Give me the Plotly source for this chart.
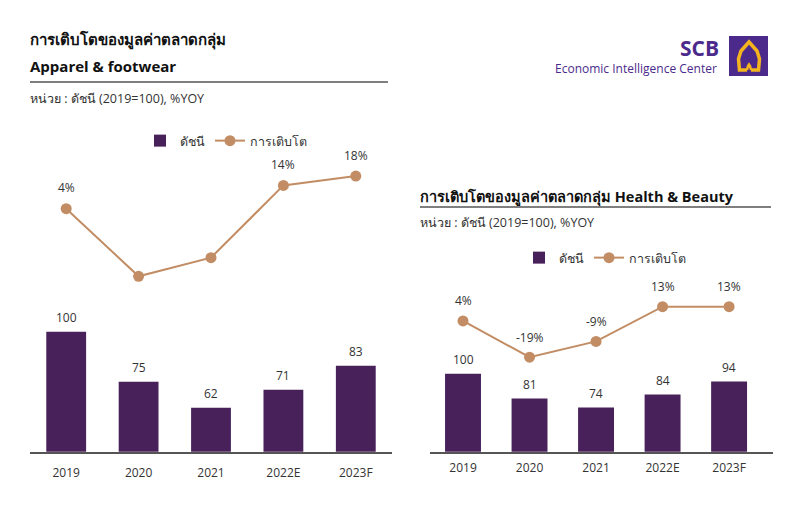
import plotly.graph_objects as go

W, H = 800, 508

# ---------------- data ----------------
categories = ["2019", "2020", "2021", "2022E", "2023F"]

apparel_index = [100, 75, 62, 71, 83]
apparel_growth = [4, -25, -17, 14, 18]
apparel_growth_labels = ["4%", "", "", "14%", "18%"]

beauty_index = [100, 81, 74, 84, 94]
beauty_growth = [4, -19, -9, 13, 13]
beauty_growth_labels = ["4%", "-19%", "-9%", "13%", "13%"]

legend_bar_name = "ดัชนี"
legend_line_name = "การเติบโต"

# ---------------- styles ----------------
BAR = "#48205A"
LINE = "#C28D64"
TXT = "#333333"
PURPLE = "#4B2A8C"
GOLD = "#F4B41E"
FONT = "Open Sans, Noto Sans, DejaVu Sans, sans-serif"


def px(x):
    return x / W


def py(y):
    return 1 - y / H


fig = go.Figure()

# left panel
fig.add_trace(go.Bar(x=categories, y=apparel_index, name=legend_bar_name,
                     marker=dict(color=BAR, line=dict(width=0)), width=0.55,
                     xaxis="x", yaxis="y", legend="legend"))
fig.add_trace(go.Scatter(x=categories, y=apparel_growth, name=legend_line_name,
                         mode="lines+markers", line=dict(color=LINE, width=2),
                         marker=dict(color=LINE, size=11), cliponaxis=False,
                         xaxis="x", yaxis="y3", legend="legend"))
# right panel
fig.add_trace(go.Bar(x=categories, y=beauty_index, name=legend_bar_name,
                     marker=dict(color=BAR, line=dict(width=0)), width=0.54,
                     xaxis="x2", yaxis="y2", legend="legend2"))
fig.add_trace(go.Scatter(x=categories, y=beauty_growth, name=legend_line_name,
                         mode="lines+markers", line=dict(color=LINE, width=2),
                         marker=dict(color=LINE, size=11), cliponaxis=False,
                         xaxis="x2", yaxis="y4", legend="legend2"))

annotations = []
# value labels via axis coordinates (category index positions)
for i, v in enumerate(apparel_index):
    annotations.append(dict(x=i, y=v, xref="x", yref="y", text=str(v), showarrow=False,
                            yshift=14, font=dict(size=12, color=TXT)))
for i, (v, t) in enumerate(zip(apparel_growth, apparel_growth_labels)):
    if t:
        annotations.append(dict(x=i, y=v, xref="x", yref="y3", text=t, showarrow=False,
                                yshift=21, font=dict(size=12, color=TXT)))
for i, v in enumerate(beauty_index):
    annotations.append(dict(x=i, y=v, xref="x2", yref="y2", text=str(v), showarrow=False,
                            yshift=14, font=dict(size=12, color=TXT)))
for i, (v, t) in enumerate(zip(beauty_growth, beauty_growth_labels)):
    if t:
        annotations.append(dict(x=i, y=v, xref="x2", yref="y4", text=t, showarrow=False,
                                yshift=20, font=dict(size=12, color=TXT)))


# titles
def txt(x, y, s, size, color="#111111", bold=False, xanchor="left"):
    if bold:
        s = "<b>" + s + "</b>"
    annotations.append(dict(x=px(x), y=py(y), xref="paper", yref="paper", text=s,
                            showarrow=False, xanchor=xanchor, yanchor="middle",
                            font=dict(size=size, color=color, family=FONT)))


txt(28, 40, "การเติบโตของมูลค่าตลาดกลุ่ม", 15, bold=True)
txt(28, 66, "Apparel & footwear", 15, bold=True)
txt(28, 98, "หน่วย : ดัชนี (2019=100), %YOY", 12.5, color="#333333")
txt(418, 196, "การเติบโตของมูลค่าตลาดกลุ่ม Health & Beauty", 14.5, bold=True)
txt(418, 222, "หน่วย : ดัชนี (2019=100), %YOY", 12.5, color="#333333")
txt(721, 48, "SCB", 21, color=PURPLE, bold=True, xanchor="right")
txt(719, 69, "Economic Intelligence Center", 12, color=PURPLE, xanchor="right")

shapes = [
    dict(type="line", xref="paper", yref="paper", x0=px(30), x1=px(388), y0=py(82), y1=py(82),
         line=dict(color="#555555", width=1.5)),
    dict(type="line", xref="paper", yref="paper", x0=px(420), x1=px(771), y0=py(207), y1=py(207),
         line=dict(color="#555555", width=1.5)),
    dict(type="rect", xref="paper", yref="paper", x0=px(729), x1=px(768), y0=py(76), y1=py(36),
         fillcolor=PURPLE, line=dict(width=0)),
]
# logo emblem
pts = [(747, 70), (739.5, 70), (738.5, 59), (741, 51), (749, 42), (757, 51), (759.5, 59), (758.5, 70), (751, 70)]
path = "M " + " L ".join(f"{px(a):.5f},{py(b):.5f}" for a, b in pts)
shapes.append(dict(type="path", xref="paper", yref="paper", path=path,
                   line=dict(color=GOLD, width=3.5), fillcolor="rgba(0,0,0,0)"))
curl = [(747, 70), (748, 66), (749, 64.5), (750, 66), (751, 70)]
shapes.append(dict(type="path", xref="paper", yref="paper",
                   path="M " + " L ".join(f"{px(a):.5f},{py(b):.5f}" for a, b in curl),
                   line=dict(color=GOLD, width=2.5), fillcolor="rgba(0,0,0,0)"))

axis_common = dict(type="category", showgrid=False, zeroline=False, ticks="",
                   showline=True, linecolor="#555555", linewidth=1.5,
                   tickfont=dict(size=12, color=TXT, family=FONT), fixedrange=True)

fig.update_layout(
    width=W, height=H, autosize=False,
    margin=dict(l=0, r=0, t=0, b=0),
    paper_bgcolor="white", plot_bgcolor="white",
    font=dict(family=FONT, color=TXT),
    bargap=0.45,
    xaxis=dict(domain=[px(30), px(392)], range=[-0.5, 4.5], anchor="y",
               ticklabelstandoff=9, **axis_common),
    yaxis=dict(domain=[py(451.7), py(150)], range=[40, 190.85], visible=False, fixedrange=True),
    yaxis3=dict(domain=[py(451.7), py(150)], range=[-100.3, 29.2], overlaying="y",
                visible=False, fixedrange=True),
    xaxis2=dict(domain=[px(429.75), px(773)], range=[-0.5, 4.66], anchor="y2",
                ticklabelstandoff=4, **axis_common),
    yaxis2=dict(domain=[py(451.7), py(270)], range=[40, 179.8], visible=False, fixedrange=True,
                anchor="x2"),
    yaxis4=dict(domain=[py(451.7), py(270)], range=[-78.8, 36.2], overlaying="y2",
                visible=False, fixedrange=True, anchor="x2"),
    legend=dict(orientation="h", x=px(140), y=py(141), xanchor="left", yanchor="middle",
                font=dict(size=12.5, color=TXT), bgcolor="rgba(0,0,0,0)", itemwidth=30,
                traceorder="normal"),
    legend2=dict(orientation="h", x=px(519), y=py(258), xanchor="left", yanchor="middle",
                 font=dict(size=12.5, color=TXT), bgcolor="rgba(0,0,0,0)", itemwidth=30,
                 traceorder="normal"),
    annotations=annotations,
    shapes=shapes,
    showlegend=True,
)

fig.write_html("out.html")
